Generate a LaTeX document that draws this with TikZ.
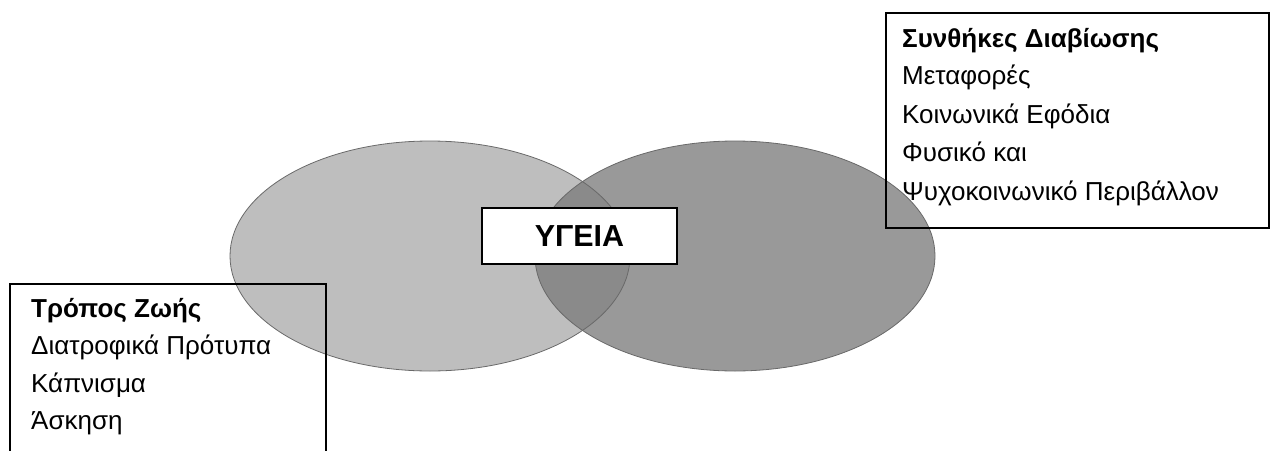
\documentclass[tikz,border=0pt]{standalone}
\usepackage{fontspec}
\setmainfont{Liberation Sans}
\definecolor{leftgray}{RGB}{190,190,190}
\definecolor{rightgray}{RGB}{153,153,153}
\definecolor{lensgray}{RGB}{138,138,138}
\definecolor{edgegray}{RGB}{105,105,105}
\tikzset{
  framebox/.style={draw=black, line width=1.5pt, inner sep=0pt},
  listline/.style={anchor=base west, inner sep=0pt, font=\fontsize{26}{30}\selectfont},
  listhead/.style={listline, font=\fontsize{26}{30}\selectfont\bfseries},
  ellout/.style={draw=edgegray, line width=0.8pt},
}
\begin{document}
\begin{tikzpicture}[x=1pt,y=-1pt]
\useasboundingbox (0,0) rectangle (1274,450);
\clip (0,0) rectangle (1274,450);
% ellipses
\fill[leftgray] (430,256) ellipse [x radius=200pt, y radius=115pt];
\fill[rightgray] (735,256) ellipse [x radius=200pt, y radius=115pt];
\begin{scope}
  \clip (430,256) ellipse [x radius=200pt, y radius=115pt];
  \fill[lensgray] (735,256) ellipse [x radius=200pt, y radius=115pt];
\end{scope}
\draw[ellout] (430,256) ellipse [x radius=200pt, y radius=115pt];
\draw[ellout] (735,256) ellipse [x radius=200pt, y radius=115pt];
% centre box
\node[framebox, fill=white, minimum width=195pt, minimum height=56pt,
      font=\fontsize{30.4}{35}\selectfont\bfseries] (health) at (579.5,236) {ΥΓΕΙΑ};
% left box
\node[framebox, anchor=north west, minimum width=316pt, minimum height=200pt] (lbox) at (9,283) {};
\node[listhead] (l1) at (31,317) {Τρόπος Ζωής};
\node[listline] (l2) at (31,354.5) {Διατροφικά Πρότυπα};
\node[listline] (l3) at (31,392) {Κάπνισμα};
\node[listline] (l4) at (31,429.5) {Άσκηση};
% right box
\node[framebox, anchor=north west, minimum width=383pt, minimum height=215pt] (rbox) at (885,12) {};
\node[listhead] (r1) at (902,47) {Συνθήκες Διαβίωσης};
\node[listline] (r2) at (902,84.5) {Μεταφορές};
\node[listline] (r3) at (902,123) {Κοινωνικά Εφόδια};
\node[listline] (r4) at (902,161.5) {Φυσικό και};
\node[listline] (r5) at (902,200) {Ψυχοκοινωνικό Περιβάλλον};
\end{tikzpicture}
\end{document}
